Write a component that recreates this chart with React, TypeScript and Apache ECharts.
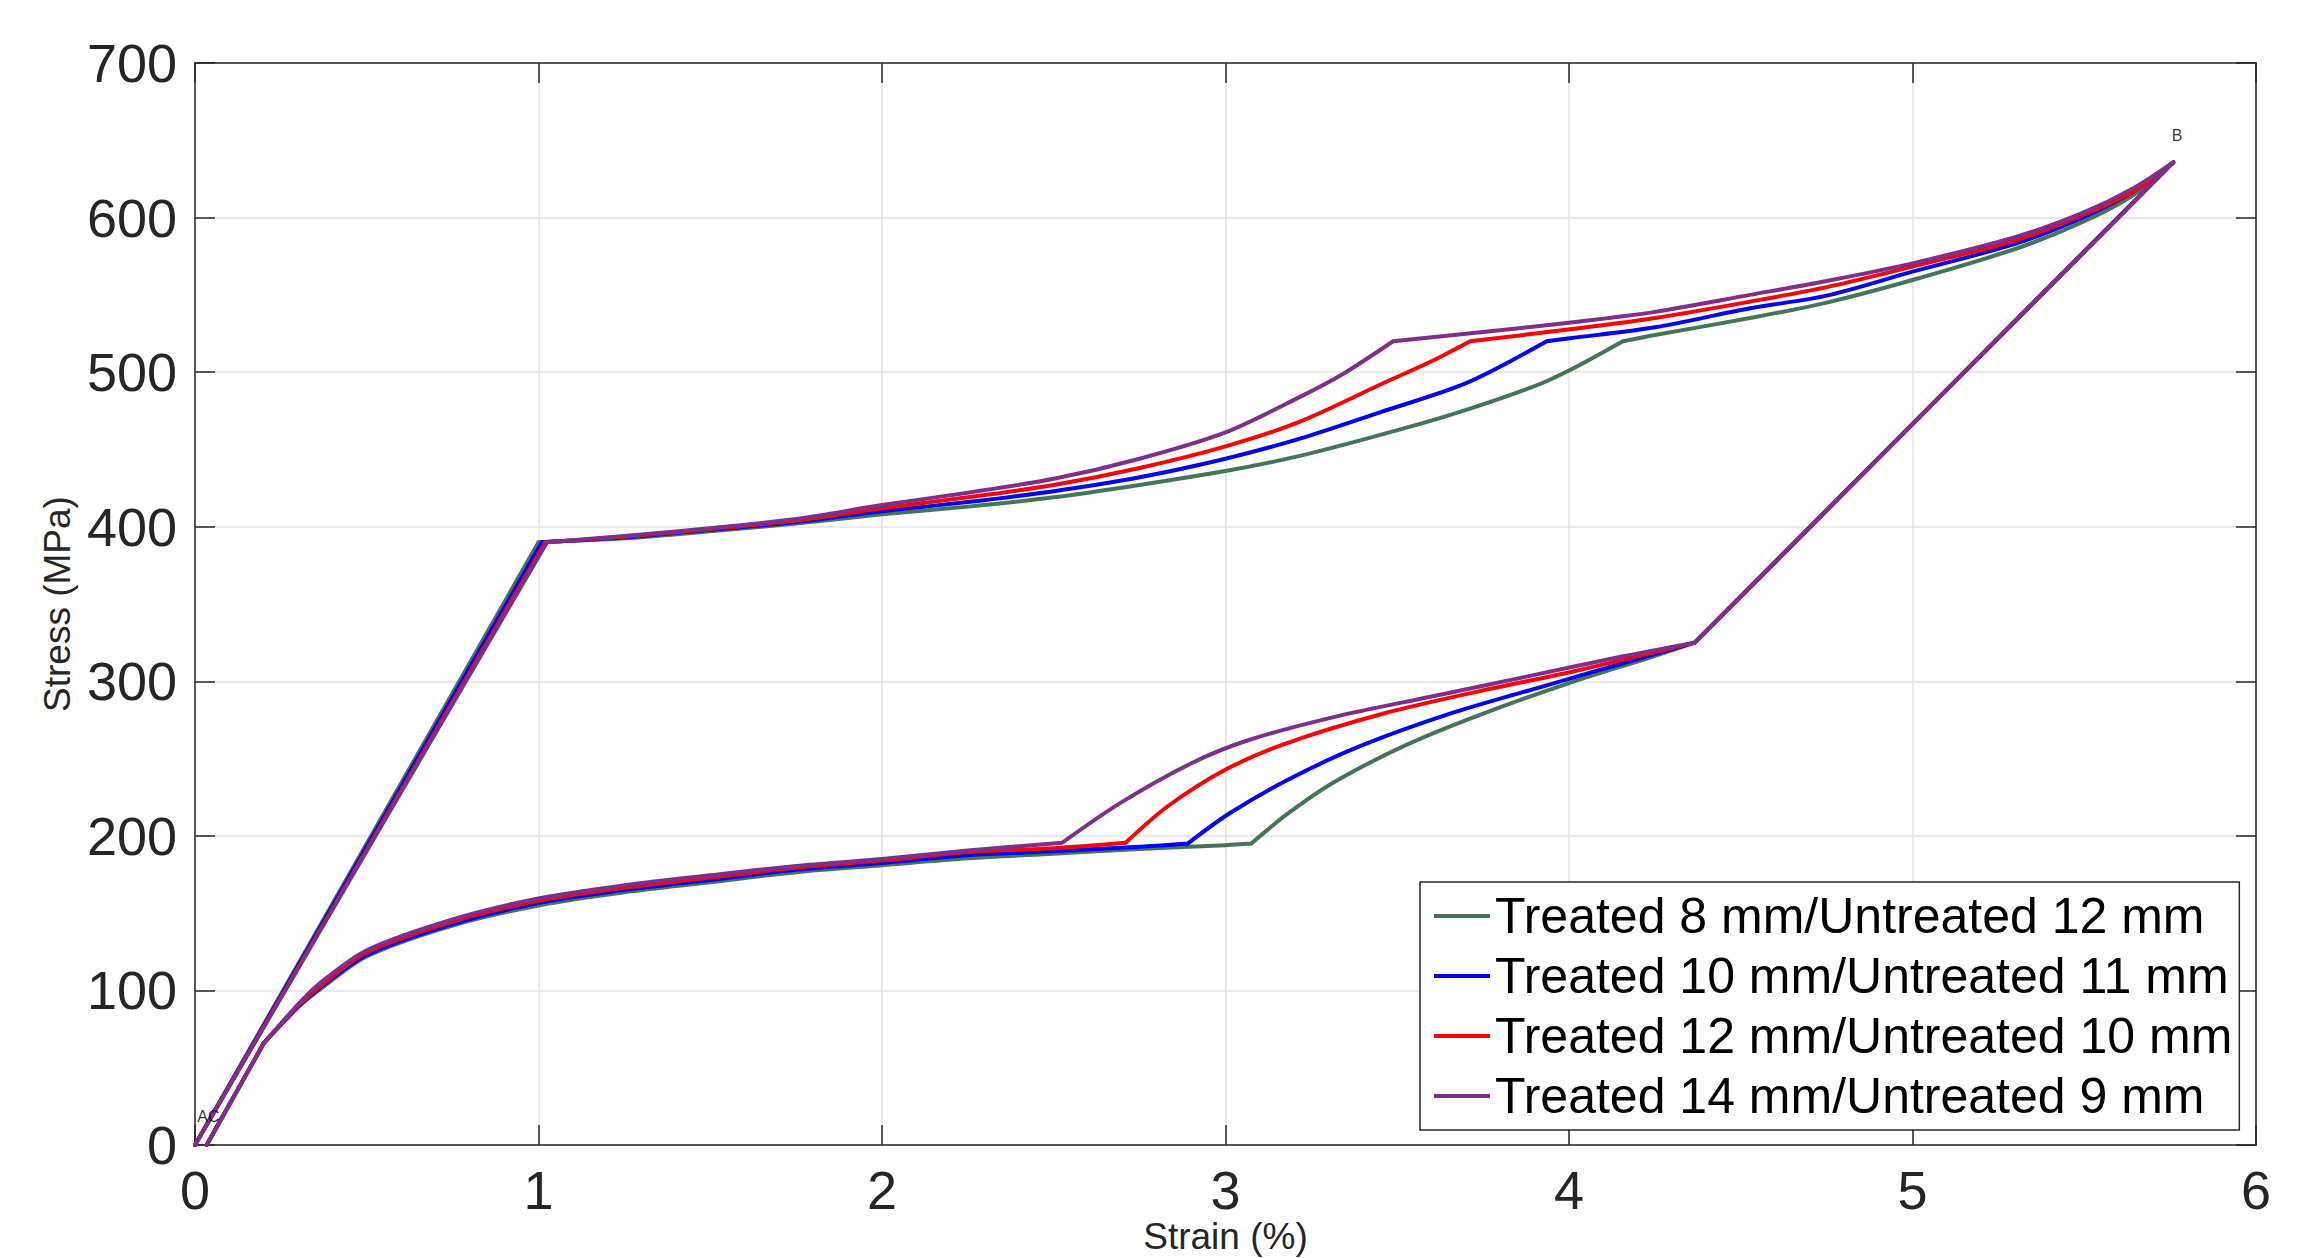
import React, { useEffect, useRef } from "react";
import * as echarts from "echarts";

const FONT = "'Liberation Sans', Arial, Helvetica, sans-serif";

const xTicks = [0, 1, 2, 3, 4, 5, 6];
const yTicks = [0, 100, 200, 300, 400, 500, 600, 700];

const seriesNames = [
  "Treated 8 mm/Untreated 12 mm",
  "Treated 10 mm/Untreated 11 mm",
  "Treated 12 mm/Untreated 10 mm",
  "Treated 14 mm/Untreated 9 mm",
];
const seriesColors = ["#437658", "#0000ff", "#ff0000", "#7e2f8e"];

// Start (A) and end (C) of every loop (strain %, stress MPa)
const pointA = [0, 0];
const pointC = [0.034, 0];

// Treated 8 mm / Untreated 12 mm
const t8Hardening = [
  [1.0, 390], [1.25, 392.5], [1.5, 397], [1.75, 402], [2, 408], [2.25, 413], [2.5, 419],
  [2.75, 427], [3, 436], [3.2, 445], [3.411, 457], [3.65, 472], [3.896, 490.6], [4.003, 501.4],
  [4.157, 520],
];
const t8PostYield = [
  [4.157, 520], [4.25, 524], [4.527, 535], [4.75, 545], [5, 559.6], [5.303, 580], [5.497, 597.3],
  [5.643, 614.6], [5.759, 635.7],
];
const t8Recovery = [
  [4.366, 325], [4.224, 314.5], [4.015, 300], [3.737, 278], [3.528, 259], [3.318, 235],
  [3.179, 214], [3.075, 195],
];
const t8LowerPlateau = [
  [3.075, 195], [3, 194], [2.75, 191.5], [2.5, 188.5], [2.25, 185.5], [2, 181], [1.75, 176.5],
  [1.5, 170], [1.25, 163.5], [1, 155], [0.75, 142], [0.5, 122], [0.36, 100], [0.3, 89], [0.2, 65.8],
];

// Treated 10 mm / Untreated 11 mm
const t10Hardening = [
  [1.01, 390], [1.25, 393], [1.5, 398], [1.75, 403], [2, 410], [2.25, 416], [2.5, 423],
  [2.75, 432], [3, 444], [3.217, 457], [3.45, 474], [3.702, 493], [3.935, 520],
];
const t10PostYield = [
  [3.935, 520], [4.003, 521.9], [4.25, 529], [4.527, 541.3], [4.75, 549.5], [5, 565],
  [5.303, 583.3], [5.497, 600.1], [5.643, 616.8], [5.759, 635.7],
];
const t10Recovery = [
  [4.366, 325], [4.154, 311.5], [3.945, 298], [3.667, 280], [3.388, 257.7], [3.179, 236],
  [3.012, 214.6], [2.89, 195],
];
const t10LowerPlateau = [
  [2.89, 195], [2.75, 193], [2.5, 190], [2.25, 187.5], [2, 182.5], [1.75, 178], [1.5, 171.5],
  [1.25, 165], [1, 156.5], [0.75, 143], [0.5, 123], [0.36, 101], [0.3, 89.5], [0.2, 65.8],
];

// Treated 12 mm / Untreated 10 mm
const t12Hardening = [
  [1.02, 390], [1.25, 393.5], [1.5, 398.5], [1.75, 404], [2, 412], [2.25, 419], [2.5, 427],
  [2.75, 438], [3, 452], [3.217, 468], [3.459, 492.8], [3.6, 507], [3.712, 520],
];
const t12PostYield = [
  [3.712, 520], [4.003, 527.7], [4.25, 535], [4.527, 545.6], [4.75, 555], [5, 568.3],
  [5.303, 585.5], [5.497, 601.7], [5.643, 616.8], [5.759, 635.7],
];
const t12Recovery = [
  [4.366, 325], [4.015, 306.5], [3.737, 293.5], [3.458, 279], [3.179, 260], [2.998, 242.6],
  [2.831, 219], [2.709, 195.5],
];
const t12LowerPlateau = [
  [2.709, 195.5], [2.5, 192], [2.25, 189.5], [2, 184], [1.75, 179.5], [1.5, 173], [1.25, 166.5],
  [1, 158], [0.75, 144.5], [0.5, 124.5], [0.36, 102], [0.3, 90], [0.2, 65.8],
];

// Treated 14 mm / Untreated 9 mm
const t14Hardening = [
  [1.025, 390], [1.25, 394], [1.5, 399], [1.75, 405], [2, 414], [2.25, 422], [2.5, 431],
  [2.75, 444], [3, 461], [3.217, 484], [3.343, 499], [3.488, 520],
];
const t14PostYield = [
  [3.488, 520], [3.75, 526], [4.0, 532], [4.25, 539], [4.527, 550], [4.75, 559], [5, 570.4],
  [5.303, 587.6], [5.497, 603.2], [5.643, 619], [5.759, 635.7],
];
const t14Recovery = [
  [4.366, 325], [4.154, 316], [3.876, 303], [3.597, 290], [3.318, 277], [3.068, 262],
  [2.901, 247], [2.692, 221], [2.525, 195.6],
];
const t14LowerPlateau = [
  [2.525, 195.6], [2.25, 190.5], [2, 185], [1.75, 180.5], [1.5, 174.5], [1.25, 168], [1, 159.5],
  [0.75, 146], [0.5, 126], [0.36, 104], [0.3, 91], [0.2, 65.8],
];

const hardening = [t8Hardening, t10Hardening, t12Hardening, t14Hardening];
const postYield = [t8PostYield, t10PostYield, t12PostYield, t14PostYield];
const recovery = [t8Recovery, t10Recovery, t12Recovery, t14Recovery];
const lowerPlateau = [t8LowerPlateau, t10LowerPlateau, t12LowerPlateau, t14LowerPlateau];

// Point annotations
const pointLabels = [
  { text: "AC", x: 0.005, y: 18.4 },
  { text: "B", x: 5.753, y: 653.4 },
];

const axisColor = "#262626";

function makeXAxis(primary: boolean) {
  return {
    type: "value",
    min: xTicks[0],
    max: xTicks[xTicks.length - 1],
    interval: xTicks[1] - xTicks[0],
    position: primary ? "bottom" : "top",
    axisLine: { show: true, onZero: false, lineStyle: { color: axisColor, width: 1.5 } },
    axisTick: { show: true, inside: true, length: 20, lineStyle: { color: axisColor, width: 1.5 } },
    axisLabel: {
      show: primary,
      fontSize: 54,
      lineHeight: 54,
      color: axisColor,
      fontFamily: FONT,
      margin: 18,
    },
    splitLine: { show: primary, lineStyle: { color: "#e3e3e3", width: 1.5 } },
    ...(primary
      ? {
          name: "Strain (%)",
          nameLocation: "middle",
          nameGap: 73,
          nameMoveOverlap: false,
          nameTextStyle: { fontSize: 37, lineHeight: 37, color: axisColor, fontFamily: FONT },
        }
      : {}),
  };
}

function makeYAxis(primary: boolean) {
  return {
    type: "value",
    min: yTicks[0],
    max: yTicks[yTicks.length - 1],
    interval: yTicks[1] - yTicks[0],
    position: primary ? "left" : "right",
    axisLine: { show: true, onZero: false, lineStyle: { color: axisColor, width: 1.5 } },
    axisTick: { show: true, inside: true, length: 20, lineStyle: { color: axisColor, width: 1.5 } },
    axisLabel: { show: primary, fontSize: 54, color: axisColor, fontFamily: FONT, margin: 18 },
    splitLine: { show: primary, lineStyle: { color: "#e3e3e3", width: 1.5 } },
    ...(primary
      ? {
          name: "Stress (MPa)",
          nameLocation: "middle",
          nameGap: 103,
          nameTextStyle: { fontSize: 37, color: axisColor, fontFamily: FONT },
        }
      : {}),
  };
}

export default function App() {
  const ref = useRef<HTMLDivElement>(null);

  useEffect(() => {
    if (!ref.current) return;
    const chart = echarts.init(ref.current, null, { renderer: "svg" });

    const lineSeries: any[] = [];
    seriesNames.forEach((name, i) => {
      const h = hardening[i];
      const p = postYield[i];
      const r = recovery[i];
      const l = lowerPlateau[i];
      const style = {
        color: seriesColors[i],
        width: 4,
        cap: "round",
        join: "round",
      };
      // straight elastic segments: A -> yield, B -> reverse start, lower knee -> C
      lineSeries.push({
        type: "line",
        name,
        data: [pointA, h[0], null, p[p.length - 1], r[0], null, l[l.length - 1], pointC],
        connectNulls: false,
        showSymbol: false,
        symbol: "none",
        lineStyle: style,
        itemStyle: { color: seriesColors[i] },
        z: 2 + i,
      });
      // curved segments
      lineSeries.push({
        type: "line",
        name,
        data: [...h, null, ...p, null, ...r, null, ...l],
        connectNulls: false,
        smooth: 0.3,
        showSymbol: false,
        symbol: "none",
        lineStyle: style,
        itemStyle: { color: seriesColors[i] },
        z: 2 + i,
      });
    });

    const option = {
      animation: false,
      backgroundColor: "#ffffff",
      grid: {
        left: 195,
        top: 63,
        width: 2061,
        height: 1082,
        show: false,
        containLabel: false,
        outerBoundsMode: "none",
      },
      xAxis: [makeXAxis(true), makeXAxis(false)],
      yAxis: [makeYAxis(true), makeYAxis(false)],
      legend: {
        data: seriesNames,
        orient: "vertical",
        left: 1420,
        top: 882,
        padding: [9, 7, 9, 14],
        itemGap: 10,
        itemWidth: 56,
        itemHeight: 4,
        icon: "rect",
        textStyle: { fontSize: 50, color: "#000000", fontFamily: FONT, lineHeight: 49 },
        borderColor: axisColor,
        borderWidth: 1.5,
        backgroundColor: "#ffffff",
        z: 20,
      },
      series: [
        ...lineSeries,
        {
          type: "scatter",
          name: "labels",
          data: pointLabels.map((pt) => ({ value: [pt.x, pt.y], label: { formatter: pt.text } })),
          symbolSize: 1,
          itemStyle: { color: "rgba(0,0,0,0)" },
          silent: true,
          label: {
            show: true,
            position: "right",
            distance: 0,
            fontSize: 16,
            color: "#000000",
            fontFamily: FONT,
          },
          z: 10,
        },
      ],
    };

    chart.setOption(option as any);
    return () => chart.dispose();
  }, []);

  return (
    <div
      ref={ref}
      style={{ position: "absolute", left: 0, top: 0, width: 2298, height: 1258, background: "#fff" }}
    />
  );
}
